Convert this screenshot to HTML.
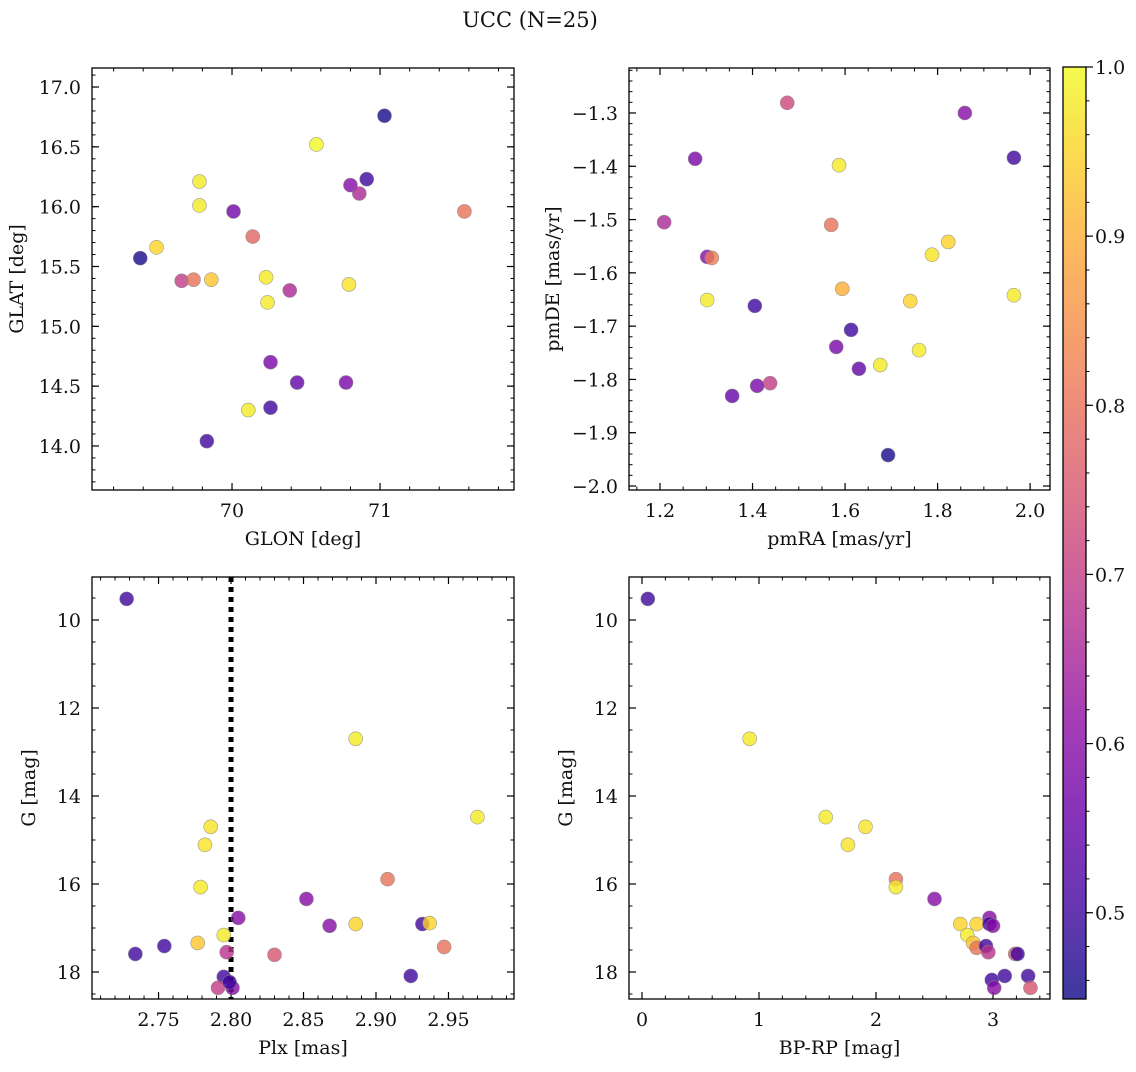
<!DOCTYPE html>
<html><head><meta charset="utf-8">
<style>
body{margin:0;background:#fff;}
svg text{font-family:"DejaVu Serif","Liberation Serif",serif;fill:#111;}
</style></head>
<body>
<svg id="fig" width="1136" height="1067" viewBox="0 0 1136 1067" xmlns="http://www.w3.org/2000/svg">
<text x="530" y="27" font-size="21" text-anchor="middle">UCC (N=25)</text>
</svg>
<script>
// Panel 1: GLON vs GLAT
const glon = [71.03,70.57,69.78,70.80,70.91,70.86,71.57,69.78,70.01,70.14,69.49,69.38,69.66,69.74,69.86,70.23,70.39,70.79,70.24,70.26,70.44,70.77,70.11,70.26,69.83];
const glat = [16.76,16.52,16.21,16.18,16.23,16.11,15.96,16.01,15.96,15.75,15.66,15.57,15.38,15.39,15.39,15.41,15.30,15.35,15.20,14.70,14.53,14.53,14.30,14.32,14.04];
const prob1 = [0.46,1.0,0.98,0.6,0.5,0.66,0.8,0.98,0.57,0.78,0.95,0.46,0.7,0.8,0.93,0.98,0.66,0.97,0.98,0.58,0.55,0.58,0.98,0.5,0.5];
// Panel 2: pmRA vs pmDE
const pmra = [1.475,1.859,1.276,1.965,1.587,1.209,1.570,1.302,1.312,1.823,1.788,1.594,1.302,1.965,1.741,1.405,1.613,1.581,1.760,1.676,1.630,1.438,1.410,1.356,1.693];
const pmde = [-1.281,-1.300,-1.386,-1.384,-1.398,-1.505,-1.510,-1.570,-1.572,-1.542,-1.566,-1.630,-1.651,-1.642,-1.653,-1.662,-1.707,-1.739,-1.745,-1.773,-1.780,-1.807,-1.812,-1.831,-1.942];
const prob2 = [0.72,0.6,0.58,0.5,0.98,0.66,0.8,0.6,0.82,0.95,0.97,0.9,0.98,0.98,0.95,0.5,0.5,0.58,0.98,0.98,0.55,0.7,0.58,0.55,0.46];
// Panel 3: Plx vs G
const plx = [2.728,2.886,2.970,2.786,2.782,2.908,2.779,2.852,2.805,2.868,2.886,2.932,2.937,2.795,2.777,2.754,2.947,2.734,2.797,2.830,2.924,2.795,2.791,2.801,2.799];
const gmag3 = [9.52,12.70,14.48,14.70,15.11,15.89,16.07,16.34,16.77,16.95,16.91,16.91,16.89,17.16,17.34,17.41,17.43,17.59,17.55,17.61,18.09,18.11,18.36,18.36,18.23];
const prob3 = [0.5,0.98,0.98,0.97,0.97,0.8,0.98,0.6,0.6,0.6,0.95,0.5,0.95,0.98,0.93,0.5,0.8,0.5,0.68,0.75,0.5,0.5,0.7,0.6,0.5];
const plxLine = 2.80;
// Panel 4: BP-RP vs G
const bprp = [0.05,0.92,1.57,1.91,1.76,2.17,2.17,2.50,2.97,2.72,2.86,2.97,3.00,2.78,2.83,2.86,2.94,2.96,3.19,3.21,3.10,3.30,2.99,3.01,3.32];
const gmag4 = [9.52,12.70,14.48,14.70,15.11,15.89,16.07,16.34,16.77,16.91,16.91,16.91,16.95,17.16,17.34,17.45,17.41,17.55,17.59,17.59,18.09,18.09,18.18,18.36,18.36];
const prob4 = [0.5,0.98,0.98,0.97,0.97,0.8,0.98,0.6,0.6,0.95,0.95,0.5,0.6,0.98,0.93,0.8,0.5,0.68,0.75,0.5,0.5,0.5,0.5,0.6,0.75];
// Tick labels
const ticks1x = [70,71], ticks1y = [14.0,14.5,15.0,15.5,16.0,16.5,17.0];
const ticks2x = [1.2,1.4,1.6,1.8,2.0], ticks2y = [-2.0,-1.9,-1.8,-1.7,-1.6,-1.5,-1.4,-1.3];
const ticks3x = [2.75,2.80,2.85,2.90,2.95], ticksGy = [10,12,14,16,18];
const ticks4x = [0,1,2,3];
const cbTicks = [0.5,0.6,0.7,0.8,0.9,1.0];
const cmin = 0.449, cmax = 1.0;

const NS = "http://www.w3.org/2000/svg";
const svg = document.getElementById('fig');
const FS = 19;
function mk(tag, attrs, parent){const e=document.createElementNS(NS,tag);for(const k in attrs)e.setAttribute(k,attrs[k]);(parent||svg).appendChild(e);return e;}
const stops=[[13,8,135],[65,4,157],[106,0,168],[143,13,164],[177,42,144],[204,71,120],[225,100,98],[242,132,75],[252,166,54],[252,206,37],[240,249,33]];
function plasma(t){t=Math.max(0,Math.min(1,t));const f=t*10,i=Math.min(9,Math.floor(f)),u=f-i;const a=stops[i],b=stops[i+1];return 'rgb('+a.map((v,k)=>Math.round(v+(b[k]-v)*u)).join(',')+')';}
function cnorm(c){return (c-cmin)/(cmax-cmin);}

function panel(o){
  const g=mk('g',{});
  
  
  const sx=v=>o.x0+(v-o.xd[0])/(o.xd[1]-o.xd[0])*(o.x1-o.x0);
  const sy=v=>o.y1-(v-o.yd[0])/(o.yd[1]-o.yd[0])*(o.y1-o.y0);
  const ax=mk('rect',{x:o.x0,y:o.y0,width:o.x1-o.x0,height:o.y1-o.y0,fill:'none',stroke:'#000','stroke-width':1.3},g);
  
  
  const lo=Math.min(...o.xd),hi=Math.max(...o.xd);
  for(let v=Math.ceil(lo/o.xmin-1e-6)*o.xmin; v<=hi+1e-9; v+=o.xmin){const p=sx(v);
    mk('line',{x1:p,x2:p,y1:o.y1,y2:o.y1-3.5,stroke:'#000','stroke-width':1},g);
    mk('line',{x1:p,x2:p,y1:o.y0,y2:o.y0+3.5,stroke:'#000','stroke-width':1},g);}
  const ylo=Math.min(...o.yd),yhi=Math.max(...o.yd);
  for(let v=Math.ceil(ylo/o.ymin-1e-6)*o.ymin; v<=yhi+1e-9; v+=o.ymin){const p=sy(v);
    mk('line',{y1:p,y2:p,x1:o.x0,x2:o.x0+3.5,stroke:'#000','stroke-width':1},g);
    mk('line',{y1:p,y2:p,x1:o.x1,x2:o.x1-3.5,stroke:'#000','stroke-width':1},g);}
  o.xt.forEach(v=>{const p=sx(v);
    mk('line',{x1:p,x2:p,y1:o.y1,y2:o.y1-7,stroke:'#000','stroke-width':1.2},g);
    mk('line',{x1:p,x2:p,y1:o.y0,y2:o.y0+7,stroke:'#000','stroke-width':1.2},g);
    const t=mk('text',{x:p,y:o.y1+27,'font-size':FS,'text-anchor':'middle'},g);t.textContent=v.toFixed(o.xf);
    
    });
  o.yt.forEach(v=>{const p=sy(v);
    mk('line',{y1:p,y2:p,x1:o.x0,x2:o.x0+7,stroke:'#000','stroke-width':1.2},g);
    mk('line',{y1:p,y2:p,x1:o.x1,x2:o.x1-7,stroke:'#000','stroke-width':1.2},g);
    const t=mk('text',{x:o.x0-11,y:p+7,'font-size':FS,'text-anchor':'end'},g);t.textContent=v.toFixed(o.yf).replace('-','\u2212');
    
    });
  const xl=mk('text',{x:(o.x0+o.x1)/2,y:o.y1+55,'font-size':FS,'text-anchor':'middle'},g);xl.textContent=o.xl;
  
  
  const yx=o.x0-o.ylOff, yy=(o.y0+o.y1)/2;
  const yl=mk('text',{x:yx,y:yy,'font-size':FS,'text-anchor':'middle',transform:'rotate(-90 '+yx+' '+yy+')'},g);yl.textContent=o.yl;
  
  
  if(o.vline!==undefined){const p=sx(o.vline);
    const l=mk('line',{x1:p,x2:p,y1:o.y0,y2:o.y1,stroke:'#000','stroke-width':5,'stroke-dasharray':'5 5'},g);
    
    }
  o.xs.forEach((v,i)=>{
    const c=mk('circle',{cx:sx(v),cy:sy(o.ys[i]),r:7,fill:plasma(cnorm(o.cs[i])),'fill-opacity':0.8,stroke:'#888','stroke-opacity':0.8,'stroke-width':0.6},g);
    
    });
}
panel({name:'glon-glat-panel',x0:92,x1:514,y0:68,y1:490,xd:[69.054,71.905],yd:[13.632,17.159],xmin:0.2,ymin:0.1,xt:ticks1x,yt:ticks1y,xf:0,yf:1,xl:'GLON [deg]',yl:'GLAT [deg]',ylOff:69,xs:glon,ys:glat,cs:prob1});
panel({name:'pm-panel',x0:629,x1:1050,y0:68,y1:490,xd:[1.133,2.043],yd:[-2.0075,-1.2156],xmin:0.05,ymin:0.02,xt:ticks2x,yt:ticks2y,xf:1,yf:1,xl:'pmRA [mas/yr]',yl:'pmDE [mas/yr]',ylOff:70,xs:pmra,ys:pmde,cs:prob2});
panel({name:'plx-g-panel',x0:92,x1:514,y0:577,y1:999,xd:[2.7041,2.9952],yd:[18.614,9.023],xmin:0.01,ymin:0.5,xt:ticks3x,yt:ticksGy,xf:2,yf:0,xl:'Plx [mas]',yl:'G [mag]',ylOff:57,xs:plx,ys:gmag3,cs:prob3,vline:plxLine});
panel({name:'cmd-panel',x0:629,x1:1050,y0:577,y1:999,xd:[-0.111,3.487],yd:[18.614,9.023],xmin:0.2,ymin:0.5,xt:ticks4x,yt:ticksGy,xf:0,yf:0,xl:'BP-RP [mag]',yl:'G [mag]',ylOff:57,xs:bprp,ys:gmag4,cs:prob4});

// Colorbar
const cb=mk('g',{});


const defs=mk('defs',{},cb);
const lg=mk('linearGradient',{id:'pl',x1:0,y1:1,x2:0,y2:0},defs);
for(let i=0;i<=20;i++){mk('stop',{offset:i/20,'stop-color':plasma(i/20),'stop-opacity':0.8},lg);}
const cx0=1063,cx1=1086,cy0=67,cy1=999;
mk('rect',{x:cx0,y:cy0,width:cx1-cx0,height:cy1-cy0,fill:'url(#pl)',stroke:'#000','stroke-width':1.3},cb);
const cy=v=>cy1-(v-cmin)/(cmax-cmin)*(cy1-cy0);
for(let v=0.46;v<=1.0001;v+=0.02){mk('line',{x1:cx1,x2:cx1+3.5,y1:cy(v),y2:cy(v),stroke:'#000','stroke-width':1},cb);}
cbTicks.forEach(v=>{const p=cy(v);
  mk('line',{x1:cx1,x2:cx1+7,y1:p,y2:p,stroke:'#000','stroke-width':1.2},cb);
  const t=mk('text',{x:cx1+9,y:p+7,'font-size':FS},cb);t.textContent=v.toFixed(1);
  
  });
</script>
</body></html>
